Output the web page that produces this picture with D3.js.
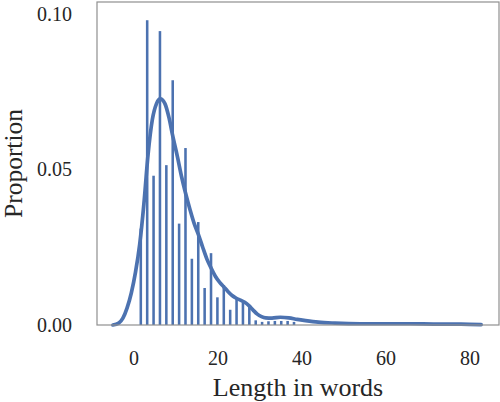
<!DOCTYPE html>
<html>
<head>
<meta charset="utf-8">
<script src="https://cdn.jsdelivr.net/npm/d3@7"></script>
<style>
  html, body { margin: 0; padding: 0; background: #fff; }
  svg { display: block; }
  text { font-family: "Liberation Serif", "Times New Roman", serif; fill: #262626; }
</style>
</head>
<body>
<svg id="chart" width="500" height="402"></svg>
<script>
// ---- data ----
const binCenters = [1.76, 3.28, 4.80, 6.32, 7.84, 9.36, 10.88, 12.40, 13.92, 15.44,
                    16.96, 18.48, 20.00, 21.52, 23.04, 24.56, 26.08, 27.60, 29.12, 30.64,
                    32.16, 33.68, 35.20, 36.72, 38.24];
const binWidth = 1.52;
const proportions = [0.031, 0.098, 0.048, 0.0945, 0.0514, 0.0787, 0.0326, 0.0569, 0.0213, 0.0331,
                     0.0119, 0.0231, 0.0089, 0.0128, 0.0049, 0.0089, 0.0071, 0.0059, 0.0015, 0.0010,
                     0.0012, 0.0013, 0.0013, 0.0013, 0.0010];
const kdeX = [-4.9, -3.5, -2.5, -1.5, -0.5, 0.5, 1.5, 2.5, 3.5, 4.5, 5.5, 6.4, 7.5, 8.5, 9.3,
              10.5, 11.5, 12.3, 13.5, 14.5, 15.5, 16.5, 17.5, 18.5, 19.5, 20.5, 21.5, 22.5, 23.5,
              24.5, 25.5, 26.5, 27.5, 28.5, 29.5, 30.5, 31.5, 33, 35, 37, 39, 41, 44, 48, 54,
              60, 66, 72, 78, 82.8];
const kdeY = [0.0000, 0.0006, 0.0022, 0.0055, 0.0103, 0.0170, 0.0260, 0.0390, 0.0550, 0.0660,
              0.0712, 0.0727, 0.0712, 0.0665, 0.0612, 0.0540, 0.0475, 0.0430, 0.0370, 0.0325,
              0.0290, 0.0250, 0.0212, 0.0183, 0.0157, 0.0138, 0.0123, 0.0108, 0.0095, 0.0086,
              0.0080, 0.0073, 0.0062, 0.0048, 0.0035, 0.0027, 0.0023, 0.0022, 0.0025, 0.0023,
              0.0018, 0.0014, 0.0009, 0.0006, 0.0004, 0.0004, 0.0004, 0.0003, 0.0003, 0.0001];
const xTicks = [0, 20, 40, 60, 80];
const yTicks = [0.00, 0.05, 0.10];
const xLabel = "Length in words";
const yLabel = "Proportion";

// ---- layout ----
const mLeft = 97, mRight = 499, mTop = 2, mBottom = 325;
const color = "#4c72b0";

const x = d3.scaleLinear().domain([-8.67, 87.05]).range([mLeft, mRight]);
const y = d3.scaleLinear().domain([0, 0.10386]).range([mBottom, mTop]);

const svg = d3.select("#chart");

// bars
svg.append("g").selectAll("rect")
  .data(binCenters.map((c, i) => ({c, v: proportions[i]})))
  .join("rect")
  .attr("x", d => x(d.c - binWidth * 0.2))
  .attr("width", d => x(d.c + binWidth * 0.2) - x(d.c - binWidth * 0.2))
  .attr("y", d => y(d.v))
  .attr("height", d => y(0) - y(d.v))
  .attr("fill", color);

// kde line
const line = d3.line()
  .x(d => x(d[0]))
  .y(d => y(d[1]))
  .curve(d3.curveMonotoneX);
svg.append("path")
  .datum(kdeX.map((v, i) => [v, kdeY[i]]))
  .attr("d", line)
  .attr("fill", "none")
  .attr("stroke", color)
  .attr("stroke-width", 3.7)
  .attr("stroke-linejoin", "round")
  .attr("stroke-linecap", "round");

// frame
svg.append("rect")
  .attr("x", mLeft).attr("y", mTop)
  .attr("width", mRight - mLeft).attr("height", mBottom - mTop)
  .attr("fill", "none").attr("stroke", "#8f8f8f").attr("stroke-width", 1.2);

// axes (no tick lines, labels only)
const xAxis = d3.axisBottom(x).tickValues(xTicks).tickSize(0).tickPadding(26)
  .tickFormat(d3.format("d"));
const gx = svg.append("g").attr("transform", `translate(0,${mBottom})`).call(xAxis);
gx.select(".domain").remove();
gx.selectAll("text").style("font-size", "20px").style("font-family", "Liberation Serif, serif").attr("fill", "#262626");

const yAxis = d3.axisLeft(y).tickValues(yTicks).tickSize(0).tickPadding(25)
  .tickFormat(d3.format(".2f"));
const gy = svg.append("g").attr("transform", `translate(${mLeft},0)`).call(yAxis);
gy.select(".domain").remove();
gy.selectAll("text").style("font-size", "20px").style("font-family", "Liberation Serif, serif").attr("fill", "#262626");

// axis titles
svg.append("text")
  .attr("x", (mLeft + mRight) / 2).attr("y", 396)
  .attr("text-anchor", "middle")
  .style("font-size", "26px")
  .text(xLabel);

svg.append("text")
  .attr("transform", `translate(22,${(mTop + mBottom) / 2}) rotate(-90)`)
  .attr("text-anchor", "middle")
  .style("font-size", "25.5px")
  .text(yLabel);
</script>
</body>
</html>
